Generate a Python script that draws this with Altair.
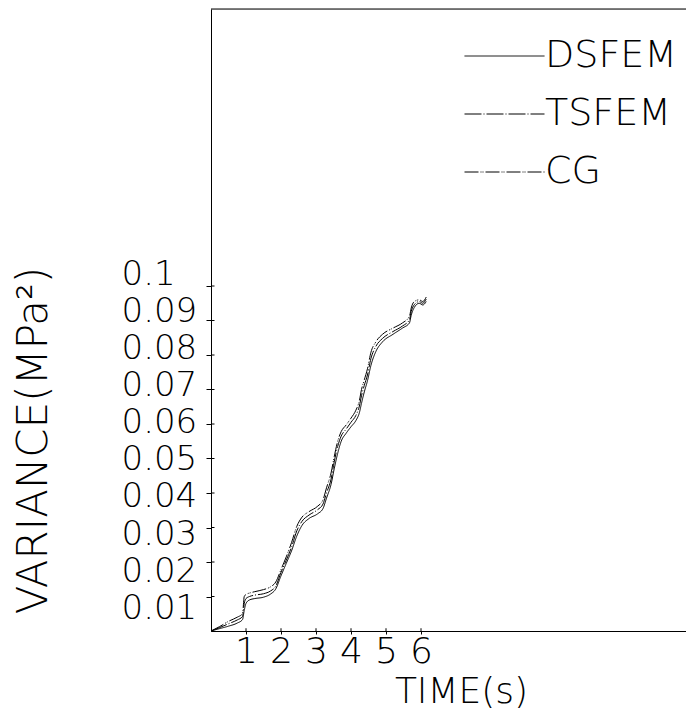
import altair as alt
import pandas as pd

# ---- data ----
time_s = [0, 0.25, 0.5, 0.75, 0.9, 0.95, 1.0, 1.1, 1.25, 1.5, 1.7, 1.85, 2.0, 2.15, 2.3,
          2.45, 2.6, 2.8, 3.05, 3.2, 3.3, 3.43, 3.52, 3.62, 3.72, 3.86, 4.0, 4.14, 4.24,
          4.3, 4.38, 4.47, 4.57, 4.71, 4.9, 5.2, 5.47, 5.67, 5.72, 5.81, 5.95, 6.05, 6.15]
dsfem = [0, 0.0007, 0.0014, 0.0023, 0.0033, 0.0060, 0.0080, 0.0090, 0.0094, 0.0098, 0.0107,
         0.0122, 0.0160, 0.0196, 0.0232, 0.0275, 0.0306, 0.0326, 0.0340, 0.0355, 0.0385,
         0.0425, 0.0470, 0.0515, 0.0550, 0.0573, 0.0592, 0.0610, 0.0633, 0.0660, 0.0693,
         0.0725, 0.0770, 0.0810, 0.0838, 0.0860, 0.0878, 0.0893, 0.0915, 0.0938, 0.0950,
         0.0945, 0.0955]
tsfem = [0, 0.0010, 0.0021, 0.0032, 0.0042, 0.0080, 0.0094, 0.0100, 0.0104, 0.0108, 0.0116,
         0.0130, 0.0170, 0.0205, 0.0243, 0.0290, 0.0318, 0.0336, 0.0352, 0.0368, 0.0400,
         0.0440, 0.0490, 0.0535, 0.0565, 0.0585, 0.0605, 0.0625, 0.0652, 0.0682, 0.0712,
         0.0742, 0.0790, 0.0825, 0.0848, 0.0868, 0.0884, 0.0902, 0.0926, 0.0946, 0.0955,
         0.0950, 0.0962]
cg = [0, 0.0013, 0.0028, 0.0040, 0.0050, 0.0100, 0.0106, 0.0110, 0.0114, 0.0120, 0.0128,
      0.0142, 0.0178, 0.0215, 0.0256, 0.0303, 0.0330, 0.0346, 0.0362, 0.0380, 0.0415,
      0.0458, 0.0505, 0.0550, 0.0578, 0.0597, 0.0617, 0.0640, 0.0668, 0.0700, 0.0728,
      0.0760, 0.0808, 0.0838, 0.0860, 0.0878, 0.0893, 0.0912, 0.0936, 0.0955, 0.0960,
      0.0955, 0.0968]
series_names = ["DSFEM", "TSFEM", "CG"]
x_ticks = [1, 2, 3, 4, 5, 6]
y_ticks = [0.01, 0.02, 0.03, 0.04, 0.05, 0.06, 0.07, 0.08, 0.09, 0.1]

rows = []
for name, vals in zip(series_names, [dsfem, tsfem, cg]):
    for t, v in zip(time_s, vals):
        rows.append({"time": t, "variance": v, "method": name})
df = pd.DataFrame(rows)

FONT = "DejaVu Sans"
FW = 200
W, H = 475, 622
XMAX = W / 35.0
YMAX = H / 3450.0

x_scale = alt.Scale(domain=[0, XMAX], nice=False, zero=False)
y_scale = alt.Scale(domain=[0, YMAX], nice=False, zero=False)

x_axis = alt.Axis(values=x_ticks, format="d", grid=False, tickSize=3, labelPadding=0,
                  labelFont=FONT, labelFontSize=36, labelFontWeight=FW, labelColor="black",
                  labelOverlap=False, labelBaseline="top",
                  title="TIME(s)", titleFont=FONT, titleFontSize=36, titleFontWeight=FW,
                  titleColor="black", titleX=250, titleY=71, titleBaseline="alphabetic",
                  titleAlign="center", domainColor="black", tickColor="black")
y_axis = alt.Axis(values=y_ticks, format="~g", grid=False, tickSize=5, labelPadding=85,
                  labelAlign="left", labelBaseline="middle",
                  labelOffset={"expr": "(0.055 - datum.value) * 260"},
                  labelFont=FONT, labelFontSize=34, labelFontWeight=FW, labelColor="black",
                  labelOverlap=False,
                  title="VARIANCE(MPa²)", titleFont=FONT, titleFontSize=42, titleFontWeight=FW,
                  titleColor="black", titleX=-178, titleY=431, titleBaseline="middle",
                  titleAlign="center", titleAngle=270, domainColor="black", tickColor="black")

lines = alt.Chart(df).mark_line(color="black", strokeWidth=1, interpolate="monotone").encode(
    x=alt.X("time:Q", scale=x_scale, axis=x_axis),
    y=alt.Y("variance:Q", scale=y_scale, axis=y_axis),
    strokeDash=alt.StrokeDash(
        "method:N",
        scale=alt.Scale(domain=series_names, range=[[1, 0], [17, 2, 1, 2], [14, 2, 1, 1, 1, 2]]),
        legend=alt.Legend(title=None, orient="none", legendX=253, legendY=27, padding=0,
                          symbolType="stroke", symbolSize=6400, symbolStrokeWidth=1,
                          symbolStrokeColor="black", labelFont=FONT, labelFontSize=38,
                          labelFontWeight=FW, labelColor="black", labelOffset=0,
                          labelBaseline="middle", clipHeight=40, rowPadding=18),
    ),
    order=alt.Order("time:Q"),
)

top_border = alt.Chart(pd.DataFrame({"v": [YMAX]})).mark_rule(color="black", strokeWidth=1).encode(
    y=alt.Y("v:Q", scale=y_scale), x=alt.datum(0), x2=alt.datum(XMAX)
)
ytick_in = alt.Chart(pd.DataFrame({"v": y_ticks})).mark_rule(color="black", strokeWidth=1).encode(
    y=alt.Y("v:Q", scale=y_scale), x=alt.datum(0), x2=alt.datum(0.1)
)
xtick_in = alt.Chart(pd.DataFrame({"t": x_ticks})).mark_rule(color="black", strokeWidth=1).encode(
    x=alt.X("t:Q", scale=x_scale), y=alt.datum(0), y2=alt.datum(0.0008)
)

chart = alt.layer(lines, top_border, ytick_in, xtick_in).properties(
    width=W, height=H,
    padding={"left": 203, "top": 1, "right": 0, "bottom": 79},
    autosize=alt.AutoSizeParams(type="none"),
).configure_view(stroke=None).configure(background="white")

chart.save("out.html", embed_options={"renderer": "svg", "actions": False})
